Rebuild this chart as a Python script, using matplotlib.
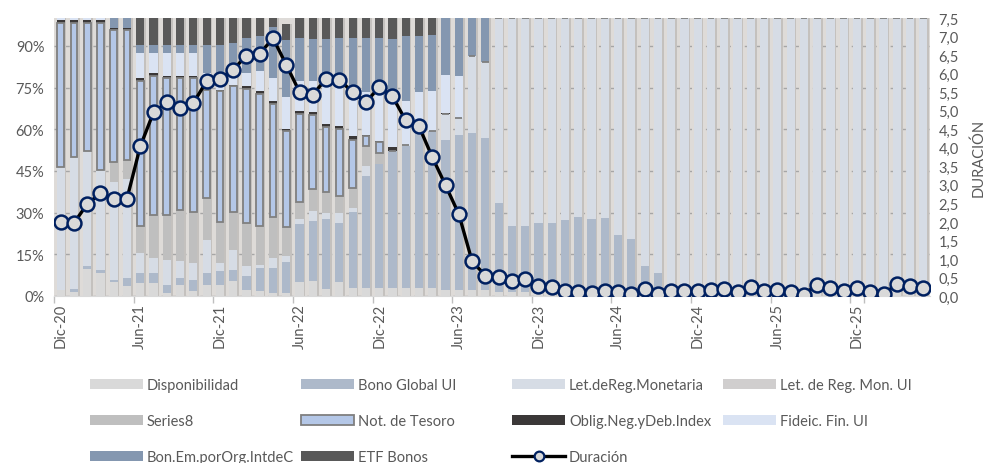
import matplotlib
matplotlib.use("Agg")
import matplotlib.pyplot as plt
from matplotlib.patches import Patch
from matplotlib.lines import Line2D
import numpy as np

plt.rcParams['font.family'] = ['Lato', 'DejaVu Sans']

months = ["Dic-20", "Ene-21", "Feb-21", "Mar-21", "Abr-21", "May-21", "Jun-21", "Jul-21", "Ago-21", "Sep-21", "Oct-21", "Nov-21",
          "Dic-21", "Ene-22", "Feb-22", "Mar-22", "Abr-22", "May-22", "Jun-22", "Jul-22", "Ago-22", "Sep-22", "Oct-22", "Nov-22",
          "Dic-22", "Ene-23", "Feb-23", "Mar-23", "Abr-23", "May-23", "Jun-23", "Jul-23", "Ago-23", "Sep-23", "Oct-23", "Nov-23",
          "Dic-23", "Ene-24", "Feb-24", "Mar-24", "Abr-24", "May-24", "Jun-24", "Jul-24", "Ago-24", "Sep-24", "Oct-24", "Nov-24",
          "Dic-24", "Ene-25", "Feb-25", "Mar-25", "Abr-25", "May-25", "Jun-25", "Jul-25", "Ago-25", "Sep-25", "Oct-25", "Nov-25",
          "Dic-25", "Ene-26", "Feb-26", "Mar-26", "Abr-26", "May-26"]
tick_labels = ["Dic-20", "Jun-21", "Dic-21", "Jun-22", "Dic-22", "Jun-23", "Dic-23", "Jun-24", "Dic-24", "Jun-25", "Dic-25"]

# percentages of portfolio (stack order bottom -> top)
disponibilidad = [2.0, 1.3, 9.7, 8.3, 4.9, 3.7, 4.7, 4.7, 1.1, 4.1, 1.7, 4.1,
                  4.1, 5.3, 2.3, 1.7, 1.1, 1.0, 4.9, 5.5, 2.5, 4.9, 3.0, 3.0,
                  3.0, 3.0, 3.0, 3.0, 3.0, 2.0, 2.0, 2.0, 2.0, 1.5, 1.5, 1.5,
                  1.5, 1.5, 1.5, 1.5, 1.5, 1.5, 1.5, 1.5, 1.5, 1.5, 1.5, 1.5,
                  1.5, 1.5, 1.5, 1.5, 1.5, 1.5, 1.5, 1.5, 1.5, 1.5, 1.5, 1.5,
                  1.5, 1.5, 1.5, 1.5, 1.5, 1.5]
bono_global_ui = [0.0, 1.2, 1.1, 1.1, 1.0, 2.8, 3.6, 3.6, 3.0, 2.4, 4.2, 4.2,
                  4.9, 4.2, 4.8, 8.4, 9.0, 11.1, 21.0, 21.6, 25.2, 21.4, 27.2, 40.3,
                  44.5, 49.3, 51.1, 56.0, 56.3, 54.3, 56.1, 56.7, 54.9, 32.0, 23.6, 23.6,
                  24.8, 24.8, 26.0, 26.9, 26.2, 26.6, 20.6, 19.0, 9.2, 6.8, 0.0, 0.0,
                  0.0, 0.0, 0.0, 0.0, 0.0, 0.0, 0.0, 0.0, 0.0, 0.0, 0.0, 0.0,
                  0.0, 0.0, 0.0, 0.0, 0.0, 0.0]
let_reg_monetaria = [44.4, 47.4, 41.5, 36.1, 35.3, 35.6, 7.2, 5.4, 9.0, 6.0, 6.1, 12.0,
                     3.0, 7.2, 3.6, 1.2, 3.6, 2.4, 1.8, 3.6, 2.2, 3.6, 1.5, 3.6,
                     0.0, 0.0, 0.4, 0.0, 0.0, 9.2, 6.0, 27.6, 27.3, 66.5, 74.9, 74.9,
                     73.7, 73.7, 72.5, 71.6, 72.3, 71.9, 77.9, 79.5, 89.3, 91.7, 98.5, 98.5,
                     98.5, 98.5, 98.5, 98.5, 98.5, 98.5, 98.5, 98.5, 98.5, 98.5, 98.5, 98.5,
                     98.5, 98.5, 98.5, 98.5, 98.5, 98.5]
let_reg_mon_ui = [0.0] * 66
series8 = [0.0, 0.0, 0.0, 0.0, 7.0, 7.0, 9.6, 15.6, 16.2, 18.6, 18.1, 15.0,
           14.5, 13.4, 15.6, 13.8, 14.7, 10.2, 6.0, 7.8, 7.4, 6.2, 7.2, 7.2,
           4.0, 0.0, 0.0, 0.0, 0.0, 0.0, 0.0, 0.0, 0.0, 0.0, 0.0, 0.0,
           0.0, 0.0, 0.0, 0.0, 0.0, 0.0, 0.0, 0.0, 0.0, 0.0, 0.0, 0.0,
           0.0, 0.0, 0.0, 0.0, 0.0, 0.0, 0.0, 0.0, 0.0, 0.0, 0.0, 0.0,
           0.0, 0.0, 0.0, 0.0, 0.0, 0.0]
not_tesoro = [51.9, 48.4, 46.0, 52.8, 47.7, 46.8, 52.2, 49.8, 49.0, 47.2, 48.2, 39.0,
              47.2, 45.4, 48.2, 47.7, 40.8, 34.7, 31.8, 26.7, 23.7, 24.1, 17.4, 3.4,
              3.8, 0.0, 0.0, 0.0, 0.0, 0.0, 0.0, 0.0, 0.0, 0.0, 0.0, 0.0,
              0.0, 0.0, 0.0, 0.0, 0.0, 0.0, 0.0, 0.0, 0.0, 0.0, 0.0, 0.0,
              0.0, 0.0, 0.0, 0.0, 0.0, 0.0, 0.0, 0.0, 0.0, 0.0, 0.0, 0.0,
              0.0, 0.0, 0.0, 0.0, 0.0, 0.0]
oblig_neg = [1.2, 1.2, 1.2, 1.2, 0.5, 0.5, 1.2, 1.2, 1.0, 1.0, 1.0, 0.5,
             0.5, 0.5, 1.0, 0.9, 0.9, 0.8, 1.2, 0.9, 0.9, 0.9, 1.2, 0.5,
             0.4, 1.2, 0.0, 0.0, 0.0, 0.4, 0.0, 0.0, 0.0, 0.0, 0.0, 0.0,
             0.0, 0.0, 0.0, 0.0, 0.0, 0.0, 0.0, 0.0, 0.0, 0.0, 0.0, 0.0,
             0.0, 0.0, 0.0, 0.0, 0.0, 0.0, 0.0, 0.0, 0.0, 0.0, 0.0, 0.0,
             0.0, 0.0, 0.0, 0.0, 0.0, 0.0]
fideic_fin_ui = [0.5, 0.5, 0.5, 0.5, 0.0, 0.0, 9.0, 7.2, 8.2, 8.2, 8.2, 5.5,
                 6.1, 6.1, 4.8, 7.2, 8.4, 11.5, 10.8, 11.4, 16.9, 18.6, 16.8, 15.3,
                 18.8, 17.4, 15.6, 14.5, 14.4, 13.8, 15.0, 0.0, 0.0, 0.0, 0.0, 0.0,
                 0.0, 0.0, 0.0, 0.0, 0.0, 0.0, 0.0, 0.0, 0.0, 0.0, 0.0, 0.0,
                 0.0, 0.0, 0.0, 0.0, 0.0, 0.0, 0.0, 0.0, 0.0, 0.0, 0.0, 0.0,
                 0.0, 0.0, 0.0, 0.0, 0.0, 0.0]
bon_em_org = [0.0, 0.0, 0.0, 0.0, 3.6, 3.6, 3.0, 3.0, 3.0, 3.0, 3.0, 10.2,
              10.2, 9.0, 12.6, 12.6, 18.5, 20.6, 15.4, 15.0, 13.7, 13.2, 18.6, 19.7,
              18.5, 21.5, 23.4, 20.2, 20.3, 20.3, 20.9, 13.7, 15.8, 0.0, 0.0, 0.0,
              0.0, 0.0, 0.0, 0.0, 0.0, 0.0, 0.0, 0.0, 0.0, 0.0, 0.0, 0.0,
              0.0, 0.0, 0.0, 0.0, 0.0, 0.0, 0.0, 0.0, 0.0, 0.0, 0.0, 0.0,
              0.0, 0.0, 0.0, 0.0, 0.0, 0.0]
etf_bonos = [0.0, 0.0, 0.0, 0.0, 0.0, 0.0, 9.5, 9.5, 9.5, 9.5, 9.5, 9.5,
             9.5, 8.9, 7.1, 6.5, 3.0, 5.5, 7.1, 7.5, 7.5, 7.1, 7.1, 7.0,
             7.0, 7.6, 6.5, 6.3, 6.0, 0.0, 0.0, 0.0, 0.0, 0.0, 0.0, 0.0,
             0.0, 0.0, 0.0, 0.0, 0.0, 0.0, 0.0, 0.0, 0.0, 0.0, 0.0, 0.0,
             0.0, 0.0, 0.0, 0.0, 0.0, 0.0, 0.0, 0.0, 0.0, 0.0, 0.0, 0.0,
             0.0, 0.0, 0.0, 0.0, 0.0, 0.0]
duracion = [2.00, 1.97, 2.48, 2.77, 2.63, 2.63, 4.04, 4.96, 5.23, 5.08, 5.21, 5.80,
            5.86, 6.11, 6.49, 6.54, 6.96, 6.24, 5.51, 5.44, 5.86, 5.84, 5.50, 5.23,
            5.64, 5.39, 4.74, 4.58, 3.75, 2.99, 2.21, 0.94, 0.55, 0.50, 0.40, 0.45,
            0.27, 0.23, 0.14, 0.10, 0.07, 0.14, 0.10, 0.06, 0.18, 0.06, 0.13, 0.13,
            0.13, 0.15, 0.18, 0.11, 0.23, 0.13, 0.17, 0.12, 0.04, 0.31, 0.22, 0.14,
            0.22, 0.12, 0.05, 0.32, 0.26, 0.22]

series = [
    ("Disponibilidad", disponibilidad, "#d9d9d9", None),
    ("Bono Global UI", bono_global_ui, "#adb9ca", None),
    ("Let.deReg.Monetaria", let_reg_monetaria, "#d6dce5", None),
    ("Let. de Reg. Mon. UI", let_reg_mon_ui, "#d0cece", None),
    ("Series8", series8, "#bfbfbf", None),
    ("Not. de Tesoro", not_tesoro, "#b4c7e7", "#7f7f7f"),
    ("Oblig.Neg.yDeb.Index", oblig_neg, "#3b3838", None),
    ("Fideic. Fin. UI", fideic_fin_ui, "#dae3f3", None),
    ("Bon.Em.porOrg.IntdeC", bon_em_org, "#8497b0", None),
    ("ETF Bonos", etf_bonos, "#595959", None),
]

txt = "#595959"
FS = 10.5
W, H = 986.0, 464.0
fig = plt.figure(figsize=(9.86, 4.64), dpi=100)
ax = fig.add_axes([54 / W, 1 - 297 / H, 876 / W, (297 - 19.2) / H])
ax.set_facecolor("#dedbd8")
x = np.arange(len(months))
w = 0.62

total = np.zeros(len(months))
for name, vals, col, edge in series:
    total += np.array(vals)
# soft shadow
ax.bar(x + 0.12, total, width=w, color="#c4c1be", zorder=1.5, linewidth=0)

bottom = np.zeros(len(months))
handles = {}
for name, vals, col, edge in series:
    v = np.array(vals)
    if edge:
        ax.bar(x, v, width=w * 0.82, bottom=bottom, color=col, edgecolor=edge, linewidth=1.3, zorder=2.2)
        handles[name] = Patch(facecolor=col, edgecolor=edge, linewidth=1.3)
    else:
        ax.bar(x, v, width=w, bottom=bottom, color=col, linewidth=0, zorder=2)
        handles[name] = Patch(facecolor=col, edgecolor="none")
    bottom += v

ax.set_xlim(-0.5, len(months) - 0.5)
ax.set_ylim(0, 100)
ax.set_yticks([0, 15, 30, 45, 60, 75, 90])
ax.set_yticklabels([f"{t}%" for t in [0, 15, 30, 45, 60, 75, 90]], color=txt, fontsize=FS)
ax.yaxis.grid(True, linestyle=(0, (4, 3)), color="#a6a6a6", linewidth=1.0, zorder=1)
ax.set_axisbelow(True)
ax.tick_params(axis="y", length=0, pad=7)

tick_pos = [i for i, m in enumerate(months) if m in tick_labels]
ax.set_xticks(tick_pos)
ax.set_xticklabels([months[i] for i in tick_pos], rotation=90, color=txt, fontsize=FS)
ax.tick_params(axis="x", length=0, pad=5)
ax.set_xticks([p - 0.5 for p in tick_pos] + [len(months) - 0.5 - 5], minor=True)
ax.tick_params(axis="x", which="minor", length=5, color="#bfbfbf", width=1)
for s in ["top", "right", "left"]:
    ax.spines[s].set_visible(False)
ax.spines["bottom"].set_color("#d9d9d9")

ax2 = ax.twinx()
ax2.plot(x, duracion, color="black", linewidth=2.4, marker="o", markersize=10,
         markerfacecolor="#d9d9d9", markeredgecolor="#002060", markeredgewidth=1.8, zorder=5)
ax2.set_ylim(0, 7.5)
yt = np.arange(0, 7.51, 0.5)
ax2.set_yticks(yt)
ax2.set_yticklabels([f"{t:.1f}".replace(".", ",") for t in yt], color=txt, fontsize=FS)
ax2.tick_params(axis="y", length=0, pad=6)
for s in ax2.spines.values():
    s.set_visible(False)
fig.text(978 / W, 1 - 158 / H, "DURACIÓN", rotation=90, ha="center", va="center",
         color=txt, fontsize=FS)

dur_handle = Line2D([0], [0], color="black", linewidth=2.4, marker="o", markersize=7,
                    markerfacecolor="#d9d9d9", markeredgecolor="#002060", markeredgewidth=1.6)

# legend entries, row-major as in the reference
legend_rows = [
    ["Disponibilidad", "Bono Global UI", "Let.deReg.Monetaria", "Let. de Reg. Mon. UI"],
    ["Series8", "Not. de Tesoro", "Oblig.Neg.yDeb.Index", "Fideic. Fin. UI"],
    ["Bon.Em.porOrg.IntdeC", "ETF Bonos", "Duración"],
]
fs_px = FS * 100 / 72.0
for r, row in enumerate(legend_rows):
    for c, name in enumerate(row):
        h = dur_handle if name == "Duración" else handles[name]
        lg = fig.legend([h], [name], loc="center left",
                        bbox_to_anchor=((90 + 211 * c) / W, 1 - (386 + 36 * r) / H),
                        frameon=False, fontsize=FS, handlelength=53 / fs_px,
                        handleheight=10 / fs_px, handletextpad=4 / fs_px,
                        borderpad=0, borderaxespad=0)
        for t in lg.get_texts():
            t.set_color(txt)

fig.savefig("out.png", dpi=100)
